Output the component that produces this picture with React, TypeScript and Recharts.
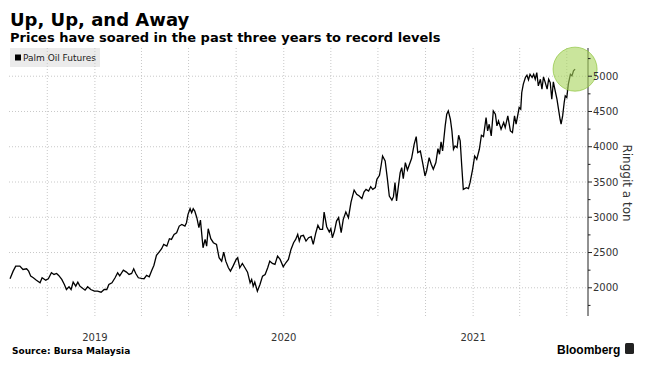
import { LineChart, Line, XAxis, YAxis, CartesianGrid, ReferenceDot } from 'recharts';

// Palm oil futures, ringgit per ton
const dates = [
    '2018-07-21', '2018-07-27', '2018-08-01', '2018-08-09', '2018-08-15', '2018-08-22', '2018-08-26', '2018-08-30', '2018-09-04', '2018-09-10',
    '2018-09-17', '2018-09-21', '2018-09-28', '2018-10-03', '2018-10-09', '2018-10-14', '2018-10-19', '2018-10-23', '2018-10-29', '2018-11-03',
    '2018-11-07', '2018-11-12', '2018-11-16', '2018-11-20', '2018-11-25', '2018-11-29', '2018-12-03', '2018-12-07', '2018-12-13', '2018-12-18',
    '2018-12-24', '2018-12-31', '2019-01-06', '2019-01-13', '2019-01-19', '2019-01-24', '2019-01-28', '2019-02-03', '2019-02-09', '2019-02-14',
    '2019-02-18', '2019-02-25', '2019-03-03', '2019-03-08', '2019-03-13', '2019-03-17', '2019-03-21', '2019-03-26', '2019-04-01', '2019-04-06',
    '2019-04-11', '2019-04-16', '2019-04-21', '2019-04-25', '2019-04-30', '2019-05-05', '2019-05-10', '2019-05-14', '2019-05-20', '2019-05-25',
    '2019-05-29', '2019-06-03', '2019-06-08', '2019-06-13', '2019-06-18', '2019-06-24', '2019-06-27', '2019-06-30', '2019-07-04', '2019-07-07',
    '2019-07-10', '2019-07-13', '2019-07-17', '2019-07-21', '2019-07-24', '2019-07-29', '2019-08-02', '2019-08-05', '2019-08-08', '2019-08-13',
    '2019-08-18', '2019-08-24', '2019-08-29', '2019-09-03', '2019-09-07', '2019-09-11', '2019-09-16', '2019-09-20', '2019-09-25', '2019-10-01',
    '2019-10-04', '2019-10-08', '2019-10-13', '2019-10-18', '2019-10-23', '2019-10-28', '2019-10-31', '2019-11-03', '2019-11-06', '2019-11-11',
    '2019-11-16', '2019-11-21', '2019-11-26', '2019-12-01', '2019-12-05', '2019-12-10', '2019-12-15', '2019-12-20', '2019-12-25', '2019-12-31',
    '2020-01-05', '2020-01-10', '2020-01-15', '2020-01-20', '2020-01-24', '2020-01-28', '2020-01-31', '2020-02-03', '2020-02-08', '2020-02-13',
    '2020-02-18', '2020-02-23', '2020-02-27', '2020-03-03', '2020-03-07', '2020-03-11', '2020-03-16', '2020-03-19', '2020-03-24', '2020-03-29',
    '2020-04-01', '2020-04-04', '2020-04-08', '2020-04-12', '2020-04-16', '2020-04-21', '2020-04-25', '2020-04-30', '2020-05-05', '2020-05-10',
    '2020-05-16', '2020-05-21', '2020-05-26', '2020-05-31', '2020-06-04', '2020-06-08', '2020-06-13', '2020-06-17', '2020-06-21', '2020-06-26',
    '2020-06-29', '2020-07-04', '2020-07-07', '2020-07-10', '2020-07-15', '2020-07-19', '2020-07-23', '2020-07-28', '2020-07-31', '2020-08-03',
    '2020-08-06', '2020-08-10', '2020-08-13', '2020-08-16', '2020-08-19', '2020-08-23', '2020-08-27', '2020-08-31', '2020-09-04', '2020-09-09',
    '2020-09-13', '2020-09-16', '2020-09-21', '2020-09-26', '2020-09-30', '2020-10-03', '2020-10-08', '2020-10-12', '2020-10-16', '2020-10-21',
    '2020-10-25', '2020-10-28', '2020-10-31', '2020-11-03', '2020-11-08', '2020-11-11', '2020-11-14', '2020-11-18', '2020-11-21', '2020-11-24',
    '2020-11-27', '2020-12-01', '2020-12-04', '2020-12-07', '2020-12-10', '2020-12-13', '2020-12-19', '2020-12-23', '2020-12-26', '2020-12-31',
    '2021-01-04', '2021-01-08', '2021-01-13', '2021-01-17', '2021-01-21', '2021-01-26', '2021-01-29', '2021-02-01', '2021-02-05', '2021-02-09',
    '2021-02-13', '2021-02-16', '2021-02-19', '2021-02-24', '2021-03-01', '2021-03-04', '2021-03-09', '2021-03-14', '2021-03-18', '2021-03-22',
    '2021-03-25', '2021-03-28', '2021-03-31', '2021-04-03', '2021-04-05', '2021-04-08', '2021-04-12', '2021-04-15', '2021-04-18', '2021-04-21',
    '2021-04-25', '2021-04-28', '2021-05-01', '2021-05-04', '2021-05-07', '2021-05-11', '2021-05-14', '2021-05-17', '2021-05-20', '2021-05-24',
    '2021-05-27', '2021-05-30', '2021-06-02', '2021-06-05', '2021-06-09', '2021-06-12', '2021-06-15', '2021-06-18', '2021-06-20', '2021-06-23',
    '2021-06-26', '2021-06-28', '2021-07-01', '2021-07-04', '2021-07-08', '2021-07-11', '2021-07-14', '2021-07-17',
];

const prices = [
    2128, 2236, 2307, 2307, 2260, 2270, 2236, 2165, 2142, 2108,
    2071, 2142, 2108, 2128, 2213, 2189, 2203, 2175, 2118, 2047,
    1976, 2014, 1976, 2080, 2023, 2080, 2023, 2000, 1966, 2014,
    1976, 1952, 1952, 1938, 1976, 1976, 2047, 2071, 2142, 2213,
    2170, 2250, 2222, 2189, 2203, 2270, 2203, 2142, 2132, 2128,
    2175, 2156, 2250, 2317, 2459, 2506, 2554, 2615, 2591, 2696,
    2686, 2757, 2781, 2875, 2899, 2875, 2923, 3041, 3122, 3065,
    3122, 3088, 2994, 2852, 2960, 2568, 2686, 2591, 2838, 2696,
    2639, 2615, 2426, 2378, 2506, 2378, 2284, 2236, 2307, 2402,
    2426, 2284, 2345, 2284, 2222, 2071, 2118, 2023, 2080, 1952,
    2047, 2165, 2189, 2284, 2378, 2345, 2331, 2449, 2402, 2298,
    2355, 2402, 2544, 2639, 2686, 2757, 2662, 2733, 2743, 2662,
    2710, 2724, 2615, 2781, 2885, 2828, 2828, 3074, 2866, 2790,
    2838, 2710, 2804, 2946, 2994, 2781, 2970, 3074, 2994, 3216,
    3386, 3325, 3301, 3264, 3358, 3396, 3372, 3434, 3396, 3420,
    3538, 3595, 3727, 3869, 3798, 3562, 3301, 3244, 3292, 3491,
    3230, 3467, 3633, 3704, 3548, 3775, 3670, 3751, 3832, 4035,
    4144, 3917, 3940, 3751, 3585, 3656, 3846, 3751, 3680, 3775,
    3974, 3893, 4068, 3940, 4295, 4461, 4508, 4390, 4224, 3964,
    4011, 3988, 4163, 4082, 3727, 3396, 3420, 3406, 3491, 3680,
    3869, 3822, 3964, 4163, 4144, 4413, 4224, 4319, 4153, 4508,
    4461, 4295, 4366, 4248, 4343, 4272, 4437, 4224, 4201, 4437,
    4319, 4437, 4556, 4532, 4769, 4887, 4982, 5014, 4948, 5028,
    4982, 5028, 4957, 5052, 4863, 4957, 4816, 4990, 4920, 4816,
    4957, 4910, 4674, 4920, 4777, 4674, 4532, 4390, 4319, 4437,
    4627, 4721, 4698, 4887, 5028, 5005, 5076, 5100,
];

const yearTicks = ['2019-01-01', '2020-01-01', '2021-01-01'];
const quarterLines = [
    '2018-10-01', '2019-01-01', '2019-04-01', '2019-07-01', '2019-10-01', '2020-01-01',
    '2020-04-01', '2020-07-01', '2020-10-01', '2021-01-01', '2021-04-01', '2021-07-01',
];
const majorTicks = [2000, 2500, 3000, 3500, 4000, 4500, 5000];
const allTicks = [1750, 2000, 2250, 2500, 2750, 3000, 3250, 3500, 3750, 4000, 4250, 4500, 4750, 5000, 5250];
const xRange = ['2018-07-19', '2021-08-11'];
const yRange = [1600, 5400];

const FONT = '"DejaVu Sans", sans-serif';

const data = dates.map((d, i) => ({ t: Date.parse(d), price: prices[i] }));
const last = data[data.length - 1];

const RightTick = (props: any) => {
    const { x, y, payload } = props;
    const major = payload.value % 500 === 0;
    const axisX = x - 5;
    return (
        <g>
            <line x1={axisX} y1={y} x2={axisX + (major ? 4 : 2.5)} y2={y} stroke="#222" />
            {major && (
                <text x={x} y={y} dy="0.36em" fontSize={10} fill="#333" fontFamily={FONT}>
                    {payload.value}
                </text>
            )}
        </g>
    );
};

export default function App() {
    return (
        <div style={{ position: 'absolute', left: 0, top: 0, width: 650, height: 371, background: '#fff' }}>
            <svg width={650} height={371} style={{ position: 'absolute', left: 0, top: 0 }}>
                <text x={10} y={25.5} fontSize={18} fontWeight="bold" fontFamily={FONT} fill="#000">
                    Up, Up, and Away
                </text>
                <text x={10} y={41.5} fontSize={13} fontWeight="bold" fontFamily={FONT} fill="#000">
                    Prices have soared in the past three years to record levels
                </text>
                <rect x={10} y={48} width={90} height={19} fill="#ebebeb" />
                <rect x={15} y={54.5} width={6} height={6} fill="#000" />
                <text x={23} y={61} fontSize={9} fontFamily={FONT} fill="#222">
                    Palm Oil Futures
                </text>
                <text x={627} y={183} fontSize={12} fontFamily={FONT} fill="#333" textAnchor="middle"
                    transform="rotate(90 627 183)" dy="0.35em">
                    Ringgit a ton
                </text>
                <text x={12} y={354} fontSize={9} fontWeight="bold" fontFamily={FONT} fill="#000">
                    Source: Bursa Malaysia
                </text>
                <text x={557} y={354} fontSize={12} fontWeight="bold" fontFamily='"Liberation Sans", Arial, sans-serif' fill="#000">
                    Bloomberg
                </text>
                <rect x={625} y={343} width={9} height={11} rx={1.5} fill="#222" />
            </svg>
            <div style={{ position: 'absolute', left: 0, top: 0 }}>
                <LineChart width={650} height={371} data={data} margin={{ top: 48, right: 22, bottom: 25, left: 9 }}>
                    <CartesianGrid
                        horizontalValues={majorTicks}
                        verticalValues={quarterLines.map((d) => Date.parse(d))}
                        stroke="#c8c8c8"
                        strokeDasharray="1 2"
                    />
                    <XAxis
                        dataKey="t"
                        type="number"
                        scale="time"
                        domain={xRange.map((d) => Date.parse(d))}
                        ticks={yearTicks.map((d) => Date.parse(d))}
                        tickFormatter={(v: number) => String(new Date(v).getUTCFullYear())}
                        axisLine={false}
                        tickLine={false}
                        tickSize={0}
                        tickMargin={18}
                        height={30}
                        tick={{ fontSize: 10, fill: '#333', fontFamily: FONT }}
                    />
                    <YAxis
                        orientation="right"
                        type="number"
                        domain={yRange}
                        ticks={allTicks}
                        interval={0}
                        width={40}
                        axisLine={{ stroke: '#222' }}
                        tickLine={false}
                        tickSize={0}
                        tickMargin={5}
                        tick={<RightTick />}
                    />
                    <Line
                        type="linear"
                        dataKey="price"
                        stroke="#000"
                        strokeWidth={1.3}
                        dot={false}
                        isAnimationActive={false}
                    />
                    <ReferenceDot
                        x={last.t}
                        y={last.price}
                        r={22}
                        fill="#a6d35a"
                        fillOpacity={0.6}
                        stroke="#8fc43f"
                        strokeOpacity={0.7}
                        ifOverflow="visible"
                    />
                </LineChart>
            </div>
        </div>
    );
}
